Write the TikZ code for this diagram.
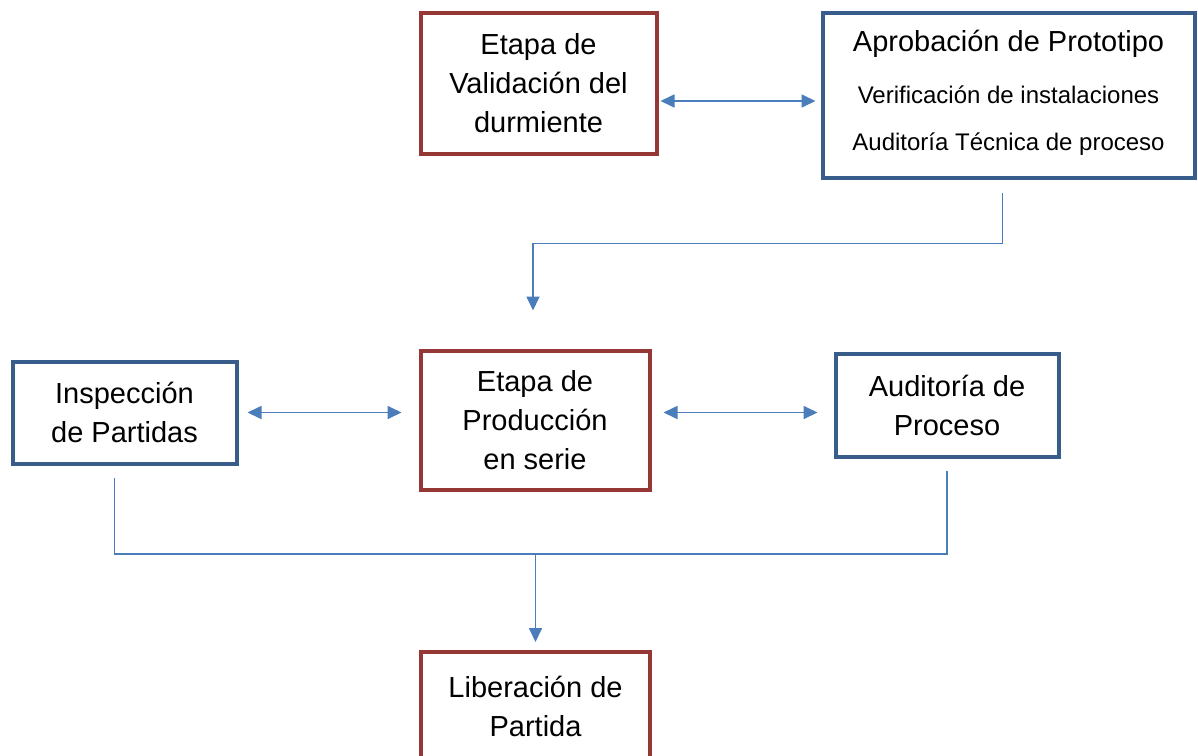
\documentclass[tikz,border=0pt]{standalone}
\usepackage{fontspec}
\setmainfont{Liberation Sans}
\usetikzlibrary{calc}
\usetikzlibrary{arrows.meta}
\usepackage{xcolor}
\definecolor{boxred}{RGB}{149,55,53}
\definecolor{boxblue}{RGB}{56,93,138}
\definecolor{linkblue}{RGB}{74,126,187}
\tikzset{
 box/.style={draw, line width=4pt, fill=white, align=center, inner sep=0,
   font=\fontsize{29}{39}\selectfont},
 redbox/.style={box, draw=boxred},
 bluebox/.style={box, draw=boxblue},
 subtext/.style={font=\fontsize{24}{30}\selectfont, inner sep=0},
 link/.style={linkblue, line width=1.7pt, >={Triangle[length=14pt,width=13pt]}}
}

\begin{document}
\begin{tikzpicture}[x=1pt,y=-1pt]
\useasboundingbox (0,0) rectangle (1198,755);
\node[redbox, minimum width=236, minimum height=141] (val) at (538.5,83) {Etapa de\\Validación del\\durmiente};
\node[bluebox, minimum width=372, minimum height=165] (apr) at (1008.5,95) {};
\node[font=\fontsize{29}{39}\selectfont, inner sep=0] (aprtit) at (1008.5,44) {Aprobación de Prototipo};
\node[subtext] (aprver) at (1008.5,95) {Verificación de instalaciones};
\node[subtext] (apraud) at (1008.5,144) {Auditoría Técnica de proceso};
\node[bluebox, minimum width=224, minimum height=102] (insp) at (124.5,412.5) {Inspección\\de Partidas};
\node[redbox, minimum width=229, minimum height=139] (prod) at (535,420) {Etapa de\\Producción\\en serie};
\node[bluebox, minimum width=223, minimum height=103] (aud) at (947,405) {Auditoría de\\Proceso};
\node[redbox, minimum width=229, minimum height=108] (lib) at (535.5,706) {Liberación de\\Partida};

\draw[link, <->] ([xshift=2pt,yshift=-18pt]val.east) -- ([xshift=-5pt,yshift=-6pt]apr.west);
\draw[link, ->] ([xshift=-6pt,yshift=-13pt]apr.south) -- ++(0,51) -| ([xshift=-2pt,yshift=38pt]prod.north);
\draw[link, <->] ([xshift=9pt]insp.east) -- ([xshift=-17pt]prod.west |- insp.east);
\draw[link, <->] ([xshift=12pt]prod.east |- insp.east) -- ([xshift=-16pt]aud.west |- insp.east);
\coordinate (join) at ($(lib.north)+(0,-96)$);
\draw[link] ([xshift=-10pt,yshift=-12pt]insp.south) |- (join) -| ([yshift=-12pt]aud.south);
\draw[link, ->] (join) -- ([yshift=8pt]lib.north);
\end{tikzpicture}
\end{document}
